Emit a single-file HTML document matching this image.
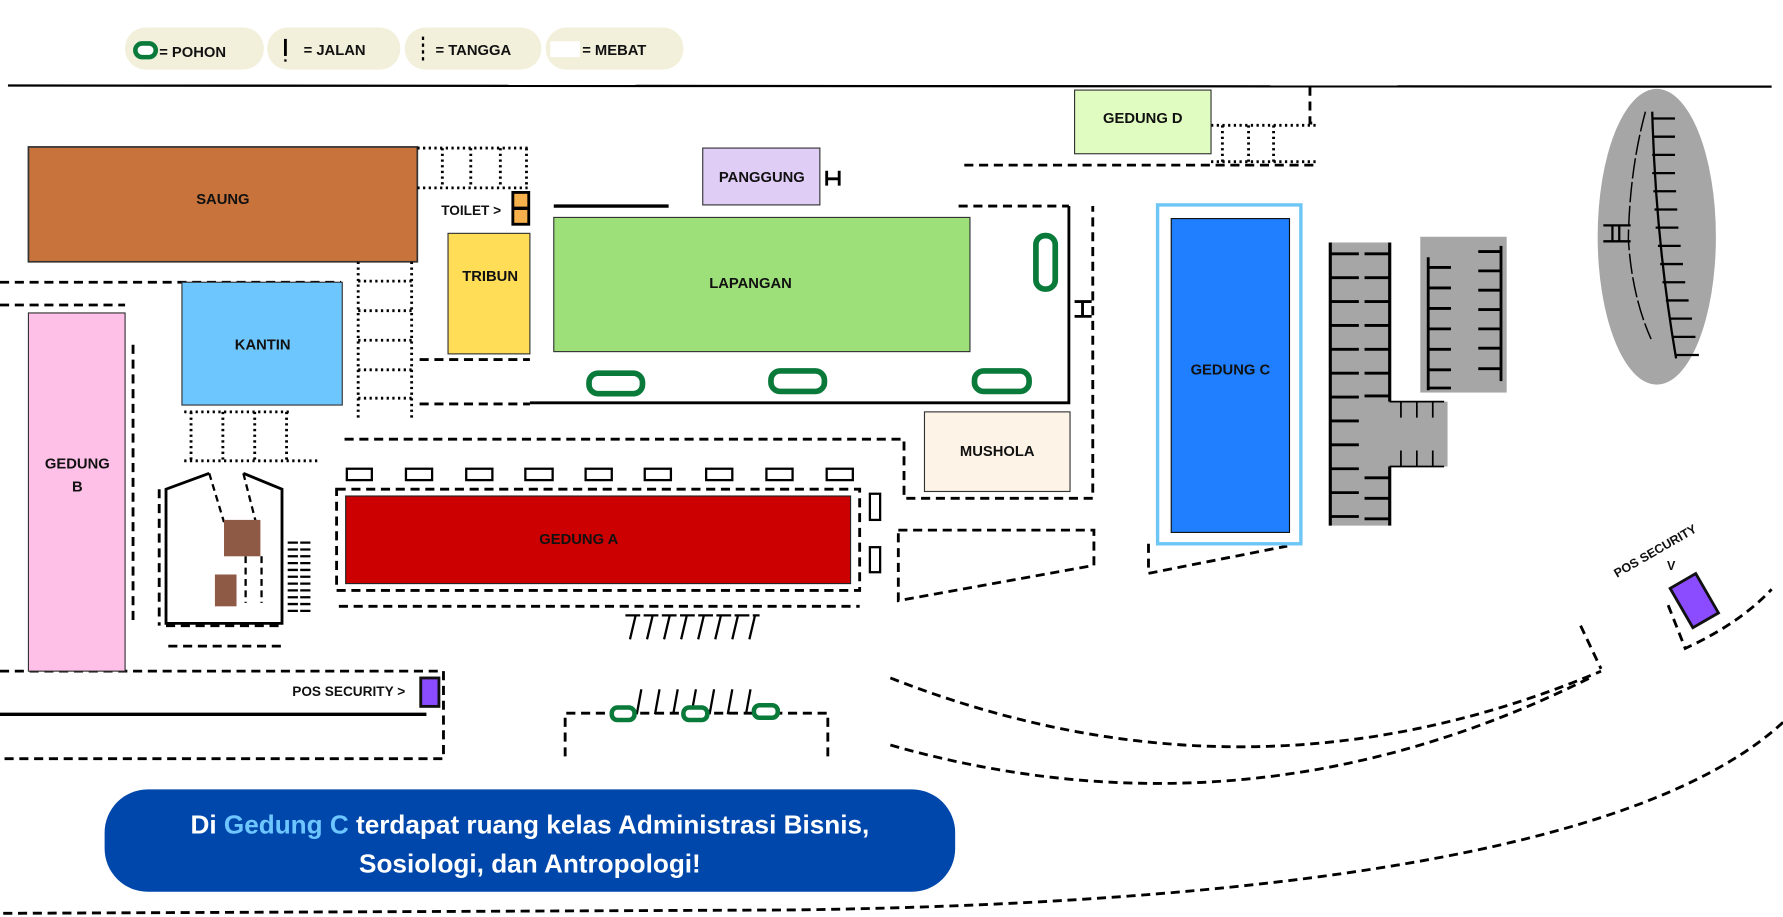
<!DOCTYPE html>
<html><head><meta charset="utf-8"><style>
html,body{margin:0;padding:0;background:#fff;width:1783px;height:917px;overflow:hidden}
svg{display:block}
text{font-family:"Liberation Sans",sans-serif;font-weight:bold;fill:#111}
</style></head><body>
<svg width="1783" height="917" viewBox="0 0 1568 806" xmlns="http://www.w3.org/2000/svg">
<g fill="#f2efda">
<rect x="110" y="24" width="122" height="37" rx="18"/>
<rect x="235" y="24" width="117" height="37" rx="18"/>
<rect x="356" y="24" width="120" height="37" rx="18"/>
<rect x="480" y="24" width="121" height="37" rx="18"/>
</g>
<rect x="119" y="38" width="18" height="12" rx="6" fill="#fff" stroke="#0a7a3a" stroke-width="4"/>
<text x="140" y="50" font-size="13">= POHON</text>
<line x1="251" y1="34" x2="251" y2="49" stroke="#000" stroke-width="2.5"/><rect x="250" y="52" width="2" height="2"/>
<text x="267" y="48" font-size="13">= JALAN</text>
<line x1="372" y1="32" x2="372" y2="54" stroke="#000" stroke-width="2" stroke-dasharray="3,3"/>
<text x="383" y="48" font-size="13">= TANGGA</text>
<rect x="484" y="36" width="26" height="14" fill="#fff"/>
<text x="512" y="48" font-size="13">= MEBAT</text>
<line x1="7" y1="75" x2="1558" y2="76" stroke="#000" stroke-width="2"/>

<g fill="none" stroke="#000" stroke-width="2.5" stroke-dasharray="8,5">
<polyline points="0,248 300,248"/><polyline points="0,268 110,268"/>
<line x1="117" y1="303" x2="117" y2="548"/>
<polyline points="303,386 795,386 795,438 961,438 961,181"/>
<line x1="369" y1="355" x2="466" y2="355"/>
<line x1="369" y1="316" x2="466" y2="316"/>
<line x1="843" y1="181" x2="940" y2="181"/>
<rect x="296" y="430" width="460" height="89"/>
<line x1="298" y1="533" x2="756" y2="533"/>
<polygon points="790,466 962,466 962,497 790,528"/>
<polyline points="1010,478 1010,504 1132,480"/>
<line x1="848" y1="145" x2="1158" y2="145"/>
<polyline points="1152,76 1152,108 1158,108"/>
<line x1="148" y1="568" x2="250" y2="568"/>
<polyline points="0,590 390,590 390,667 0,667"/>
<polyline points="497,665 497,627 728,627 728,665"/>
<path d="M783,596 Q1100,720 1408,590"/>
<path d="M783,655 Q1100,745 1400,595"/>
<polyline points="1390,550 1408,588"/>
<path d="M1568,635 Q1400,790 700,800 L0,803"/>
<path d="M1467,532 L1482,570 Q1530,548 1558,518"/>
<line x1="146" y1="550" x2="250" y2="550"/>
<line x1="140" y1="430" x2="140" y2="550"/>
</g>

<rect x="25" y="129" width="342" height="101" fill="#c8733c" stroke="#333" stroke-width="1.5"/>
<text x="196" y="179" font-size="13" text-anchor="middle">SAUNG</text>
<g fill="none" stroke="#000" stroke-width="2.5" stroke-dasharray="2,3">
<line x1="367" y1="130" x2="465" y2="130"/><line x1="367" y1="165" x2="465" y2="165"/>
<line x1="389" y1="130" x2="389" y2="165"/><line x1="414" y1="130" x2="414" y2="165"/><line x1="440" y1="130" x2="440" y2="165"/><line x1="463" y1="130" x2="463" y2="165"/>
<line x1="315" y1="230" x2="315" y2="370"/><line x1="362" y1="230" x2="362" y2="370"/>
<line x1="315" y1="247" x2="362" y2="247"/><line x1="315" y1="273" x2="362" y2="273"/><line x1="315" y1="299" x2="362" y2="299"/><line x1="315" y1="325" x2="362" y2="325"/><line x1="315" y1="350" x2="362" y2="350"/>
<line x1="162" y1="362" x2="255" y2="362"/><line x1="162" y1="405" x2="280" y2="405"/>
<line x1="168" y1="362" x2="168" y2="405"/><line x1="196" y1="362" x2="196" y2="405"/><line x1="224" y1="362" x2="224" y2="405"/><line x1="252" y1="362" x2="252" y2="405"/>
<line x1="1065" y1="110" x2="1158" y2="110"/><line x1="1065" y1="142" x2="1158" y2="142"/>
<line x1="1075" y1="110" x2="1075" y2="142"/><line x1="1098" y1="110" x2="1098" y2="142"/><line x1="1120" y1="110" x2="1120" y2="142"/>
</g>
<text x="388" y="189" font-size="12">TOILET &gt;</text>
<rect x="451" y="169" width="14" height="28" fill="#f7b14c" stroke="#000" stroke-width="2.5"/><line x1="451" y1="183" x2="465" y2="183" stroke="#000" stroke-width="3"/>
<rect x="394" y="205" width="72" height="106" fill="#ffdd57" stroke="#333"/>
<text x="431" y="247" font-size="13" text-anchor="middle">TRIBUN</text>
<line x1="487" y1="181" x2="588" y2="181" stroke="#000" stroke-width="3"/>
<rect x="487" y="191" width="366" height="118" fill="#9de07a" stroke="#333"/>
<text x="660" y="253" font-size="13" text-anchor="middle">LAPANGAN</text>
<rect x="618" y="130" width="103" height="50" fill="#e0cdf6" stroke="#333"/>
<text x="670" y="160" font-size="13" text-anchor="middle">PANGGUNG</text>
<g stroke="#000" stroke-width="2.5" fill="none">
<path d="M727,150 V163 M738,150 V163 M727,157 H738"/>
<path d="M945,265 H960 M945,278 H960 M952,265 V278"/>
<polyline points="940,181 940,354 466,354"/>
</g>
<g fill="none" stroke="#0a7a3a" stroke-width="5">
<rect x="911" y="207" width="17" height="47" rx="8"/>
<rect x="518" y="328" width="47" height="18" rx="8"/>
<rect x="678" y="326" width="47" height="18" rx="8"/>
<rect x="857" y="326" width="48" height="18" rx="8"/>
</g>
<rect x="813" y="362" width="128" height="70" fill="#fdf3e7" stroke="#333"/>
<text x="877" y="401" font-size="13" text-anchor="middle">MUSHOLA</text>
<g fill="#fff" stroke="#000" stroke-width="2">
<rect x="305" y="412" width="22" height="10"/><rect x="357" y="412" width="23" height="10"/><rect x="410" y="412" width="23" height="10"/><rect x="462" y="412" width="24" height="10"/><rect x="515" y="412" width="23" height="10"/><rect x="567" y="412" width="23" height="10"/><rect x="621" y="412" width="23" height="10"/><rect x="674" y="412" width="23" height="10"/><rect x="727" y="412" width="23" height="10"/>
<rect x="765" y="434" width="9" height="23"/><rect x="765" y="481" width="9" height="22"/>
</g>
<rect x="304" y="436" width="444" height="77" fill="#cc0000" stroke="#222"/>
<text x="509" y="478" font-size="13" text-anchor="middle">GEDUNG A</text>
<g stroke="#000" stroke-width="2">
<line x1="550" y1="541" x2="668" y2="541" stroke-dasharray="13,3"/>
<path d="M559,541 L554,562 M574,541 L569,562 M589,541 L584,562 M604,541 L599,562 M619,541 L614,562 M634,541 L629,562 M649,541 L644,562 M664,541 L659,562"/>
<path d="M564,606 L560,628 M580,606 L576,628 M596,606 L592,628 M612,606 L608,628 M628,606 L624,628 M644,606 L640,628 M660,606 L656,628"/>
</g>
<rect x="1018" y="180" width="126" height="298" fill="#fff" stroke="#6ec6f5" stroke-width="3"/>
<rect x="1030" y="192" width="104" height="276" fill="#1f7fff" stroke="#111"/>
<text x="1082" y="329" font-size="13" text-anchor="middle">GEDUNG C</text>
<rect x="945" y="79" width="120" height="56" fill="#e0fcc0" stroke="#333"/>
<text x="1005" y="108" font-size="13" text-anchor="middle">GEDUNG D</text>

<path d="M1168,213 H1224 V353 H1273 V410 H1224 V462 H1168 Z" fill="#a6a6a6"/>
<rect x="1249" y="208" width="76" height="137" fill="#a6a6a6"/>
<g stroke="#000" stroke-width="2.5">
<line x1="1170" y1="213" x2="1170" y2="462"/>
<path d="M1170,223h25M1170,244h25M1170,265h25M1170,286h25M1170,307h25M1170,328h25M1170,349h25M1170,370h25M1170,391h25M1170,412h25M1170,433h25M1170,454h25"/>
<line x1="1222" y1="213" x2="1222" y2="353"/><line x1="1222" y1="410" x2="1222" y2="462"/>
<path d="M1200,223h22M1200,244h22M1200,265h22M1200,286h22M1200,307h22M1200,328h22M1200,348h22M1200,420h22M1200,438h22M1200,456h22"/>
<line x1="1222" y1="353" x2="1270" y2="353" stroke-width="1.5"/><line x1="1222" y1="410" x2="1270" y2="410" stroke-width="1.5"/>
<path d="M1232,353v14M1246,353v14M1260,353v14M1232,410v-14M1246,410v-14M1260,410v-14" stroke-width="1.5"/>
<line x1="1256" y1="226" x2="1256" y2="343"/>
<path d="M1256,235h20M1256,253h20M1256,271h20M1256,289h20M1256,307h20M1256,325h20M1256,341h20"/>
<line x1="1320" y1="216" x2="1320" y2="335"/>
<path d="M1300,221h20M1300,238h20M1300,255h20M1300,272h20M1300,289h20M1300,306h20M1300,324h20"/>
</g>
<ellipse cx="1457" cy="208" rx="52" ry="130" fill="#a6a6a6"/>
<g stroke="#000" fill="none" stroke-width="2">
<path d="M1453,98 Q1456,210 1474,315"/>
<path d="M1453,104h20M1453,120h20M1453,136h20M1453,152h20M1454,168h20M1455,184h20M1456,200h20M1458,216h20M1460,232h20M1462,248h20M1465,264h20M1468,280h20M1471,296h20M1474,312h20"/>
<path d="M1447,98 Q1433,150 1432,210 Q1435,260 1452,298" stroke-width="1.3" stroke-dasharray="18,3"/>
<path d="M1410,198h24M1410,212h24M1418,198v14M1424,198v14" stroke-width="2"/>
</g>
<g transform="translate(1490,528) rotate(-30)">
<rect x="-13" y="-20" width="26" height="40" fill="#8b4cff" stroke="#111" stroke-width="2.5"/>
</g>
<text x="0" y="0" font-size="11" transform="translate(1422,508) rotate(-30)">POS SECURITY</text>
<text x="1466" y="501" font-size="11">V</text>

<rect x="25" y="275" width="85" height="315" fill="#ffc0e8" stroke="#333"/>
<text x="68" y="412" font-size="13" text-anchor="middle">GEDUNG</text>
<text x="68" y="432" font-size="13" text-anchor="middle">B</text>
<rect x="160" y="248" width="141" height="108" fill="#6ec6ff" stroke="#333"/>
<text x="231" y="307" font-size="13" text-anchor="middle">KANTIN</text>
<polyline points="184,416 146,430 146,548 248,548 248,430 214,416" fill="none" stroke="#000" stroke-width="2.5"/>
<path d="M184,416 L197,459 M214,416 L225,459 M216,489 V530 M230,489 V530" stroke="#000" stroke-width="2" stroke-dasharray="6,4" fill="none"/>
<rect x="197" y="457" width="32" height="32" fill="#8e5a45"/>
<rect x="189" y="505" width="19" height="28" fill="#8e5a45"/>
<path d="M253,477h22M253,483h22M253,489h22M253,495h22M253,501h22M253,507h22M253,513h22M253,519h22M253,525h22M253,531h22M253,537h22" stroke="#000" stroke-width="2" stroke-dasharray="9,2"/>
<line x1="0" y1="628" x2="375" y2="628" stroke="#000" stroke-width="3"/>
<text x="257" y="612" font-size="12">POS SECURITY &gt;</text>
<rect x="370" y="596" width="16" height="25" fill="#8b4cff" stroke="#111" stroke-width="2.5"/>
<g fill="#fff" stroke="#0a7a3a" stroke-width="4">
<rect x="538" y="622" width="20" height="11" rx="5"/><rect x="601" y="622" width="21" height="11" rx="5"/><rect x="663" y="620" width="21" height="11" rx="5"/>
</g>

<rect x="92" y="694" width="748" height="90" rx="38" fill="#0047ab"/>
<text x="466" y="733" font-size="23" text-anchor="middle" style="fill:#fff">Di <tspan style="fill:#6ec6ff">Gedung C</tspan> terdapat ruang kelas Administrasi Bisnis,</text>
<text x="466" y="767" font-size="23" text-anchor="middle" style="fill:#fff">Sosiologi, dan Antropologi!</text>
</svg>
</body></html>
